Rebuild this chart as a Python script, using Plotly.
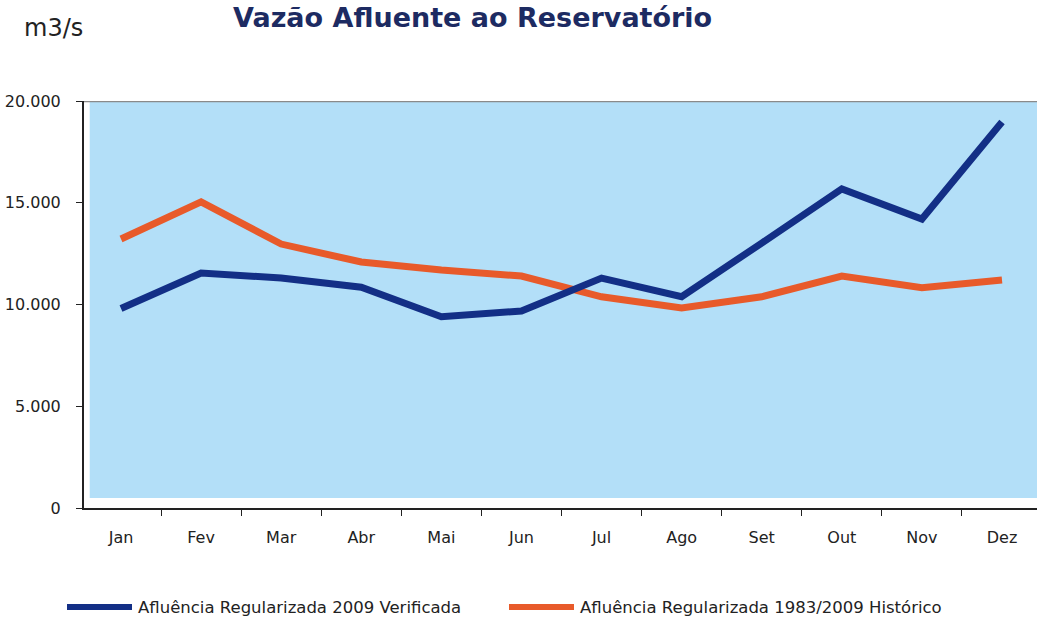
import plotly.graph_objects as go

months = ["Jan", "Fev", "Mar", "Abr", "Mai", "Jun", "Jul", "Ago", "Set", "Out", "Nov", "Dez"]
verificada_2009 = [9800, 11550, 11300, 10850, 9400, 9680, 11300, 10380, 13020, 15680, 14200, 18970]
historico_1983_2009 = [13220, 15040, 12970, 12090, 11700, 11400, 10380, 9830, 10380, 11400, 10820, 11200]
ytick_vals = [0, 5000, 10000, 15000, 20000]
ytick_text = ["0", "5.000", "10.000", "15.000", "20.000"]
name_blue = "Afluência Regularizada 2009 Verificada"
name_orange = "Afluência Regularizada 1983/2009 Histórico"

BLUE = "#132f86"
ORANGE = "#e85a2a"
FONT = "DejaVu Sans"
PLOT_H = 407
PLOT_W = 953

fig = go.Figure()
fig.add_trace(go.Scatter(x=months, y=historico_1983_2009, mode="lines", name=name_orange,
                         line=dict(color=ORANGE, width=7), showlegend=False))
fig.add_trace(go.Scatter(x=months, y=verificada_2009, mode="lines", name=name_blue,
                         line=dict(color=BLUE, width=7), showlegend=False))

# light blue plot panel
fig.add_shape(type="rect", xref="paper", yref="y", x0=0.006, x1=1, y0=490, y1=20000,
              fillcolor="#b3dff8", line=dict(width=0), layer="below")
# gray top line
fig.add_shape(type="line", xref="paper", yref="y", x0=0, x1=1, y0=20000, y1=20000,
              line=dict(color="#8a8a8a", width=2.5))

# manual legend (pixel positions converted to paper coords)
leg_y = -(607 - 508) / PLOT_H
legend_items = [(name_blue, BLUE, 67), (name_orange, ORANGE, 509)]
for text, color, px in legend_items:
    fig.add_shape(type="line", xref="paper", yref="paper",
                  x0=(px - 84) / PLOT_W, x1=(px + 65 - 84) / PLOT_W,
                  y0=leg_y, y1=leg_y, line=dict(color=color, width=6))
    fig.add_annotation(xref="paper", yref="paper", x=(px + 69 - 84) / PLOT_W, y=leg_y,
                       text=text, showarrow=False, xanchor="left", yanchor="middle",
                       font=dict(family=FONT, size=16.5, color="#222222"))

fig.add_annotation(xref="paper", yref="paper", x=(231 - 84) / PLOT_W, y=1 + (101 - 18) / PLOT_H,
                   text="<b>Vazão Afluente ao Reservatório</b>", showarrow=False,
                   xanchor="left", yanchor="middle",
                   font=dict(family=FONT, size=27, color="#1d2b62"))
fig.add_annotation(xref="paper", yref="paper", x=(22 - 84) / PLOT_W, y=1 + (101 - 28) / PLOT_H,
                   text="m3/s", showarrow=False, xanchor="left", yanchor="middle",
                   font=dict(family=FONT, size=24, color="#222222"))

fig.update_layout(
    width=1037, height=621,
    margin=dict(l=84, r=0, t=101, b=113),
    paper_bgcolor="white", plot_bgcolor="white",
    font=dict(family=FONT, size=16, color="#222222"),
)
fig.update_xaxes(range=[-0.462, 11.437], showline=True, linecolor="#222222", linewidth=2,
                 ticks="outside", tickson="boundaries", ticklen=6, tickcolor="#222222",
                 showgrid=False, zeroline=False, ticklabelstandoff=14,
                 tickfont=dict(size=16))
fig.update_yaxes(range=[0, 20000], tickvals=ytick_vals, ticktext=ytick_text,
                 showline=True, linecolor="#222222", linewidth=2,
                 ticks="outside", ticklen=6, tickcolor="#222222",
                 showgrid=False, zeroline=False, ticklabelstandoff=12,
                 tickfont=dict(size=16))

fig.write_html("out.html", config={"displayModeBar": False},
               post_script="document.body.style.margin='0';")
